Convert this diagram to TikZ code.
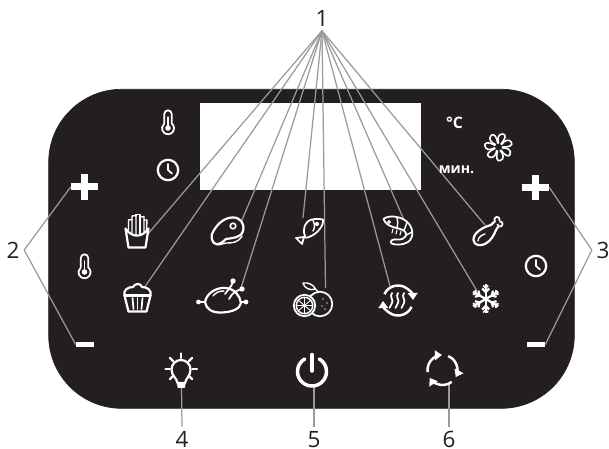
\documentclass[tikz,border=0pt]{standalone}
\usepackage{fontspec}
\setmainfont{Open Sans}
\usetikzlibrary{arrows.meta}
\definecolor{panelblack}{HTML}{231F20}
\definecolor{leadergray}{HTML}{9A9A9A}
\tikzset{
    icon/.style={draw=white, line width=1.25pt, line cap=round, line join=round},
    thin icon/.style={draw=white, line width=.8pt, line cap=round, line join=round},
    leader/.style={draw=leadergray, line width=.7pt},
    numlabel/.style={font=\fontsize{12.8}{14}\selectfont, text=panelblack, inner sep=2.5pt},
    bar/.style={fill=white, inner sep=0pt, minimum width=.36cm, minimum height=.1cm},
    crossbar/.style={fill=white, inner sep=0pt, minimum width=.54cm, minimum height=.14cm},
    panelword/.style={font=\fontsize{8}{10}\selectfont\bfseries, text=white, inner sep=0pt},
    cycle arrow/.style={icon, line width=1.4pt, line cap=butt, ->, >={Stealth[length=4pt,width=5.5pt,inset=0pt]}},
    pics/thermo/.style={code={
        \draw [icon, line width=1pt] (-3.7,-4.5) -- (-3.7,-14) arc (180:360:3.7) -- (3.7,-4.5) arc (-52:232:6) -- cycle;
        \fill [white] (0,0) circle (2.8);
        \draw [icon, line width=.7pt] (0,0) -- (0,-11);
    }},
    pics/clock/.style={code={
        \draw [icon] (0,0) circle (10.2);
        \draw [icon, line width=1pt] (0,-6) -- (0,0) -- (4,3.5);
    }},
    pics/flakearm/.style={code={
        \draw [icon, line cap=butt] (0,0) -- (0,-14.5);
        \draw [icon, line cap=butt] (-3.5,-10.5) -- (0,-7) -- (3.5,-10.5);
        \draw [icon, line cap=butt, line width=.9pt] (-2.5,-13.5) -- (0,-11) -- (2.5,-13.5);
    }},
    pics/fanblade/.style={code={
        \draw [thin icon, line width=.9pt] (0,-4) .. controls (-1.5,-9) and (0,-13.5) .. (4.5,-13) .. controls (8,-12.5) and (7,-8) .. (2.5,-3);
    }},
}

\begin{document}
\begin{tikzpicture}[x=.02cm, y=-.02cm]
        \useasboundingbox (0,0) rectangle (609,449);

        %panel and display
        \draw [fill=panelblack, draw=panelblack, rounded corners=1.46cm] (48.7,89.3) rectangle (574.3,408.3);
        \fill [white] (200,103) rectangle (421,190);

        \node [numlabel] (lab1) at (322,18) {1};
        \node [numlabel] (lab2) at (13,250) {2};
        \node [numlabel] (lab3) at (603,250) {3};
        \node [numlabel] (lab4) at (182,439.5) {4};
        \node [numlabel] (lab5) at (314,439.5) {5};
        \node [numlabel] (lab6) at (449,439.5) {6};

        \node [crossbar] (plusL) at (84.5,187) {};
        \node [crossbar] (plusR) at (535.5,187.5) {};
        \node [bar] (minusL) at (85,344.5) {};
        \node [bar] (minusR) at (536,344.5) {};
        \fill [white] (81,174) rectangle (88,200);
        \fill [white] (532,175) rectangle (539,200);

        \coordinate (fries) at (147,235);
        \coordinate (cupcake) at (144,288);
        \coordinate (steak) at (242,220);
        \coordinate (chicken) at (241,288);
        \coordinate (fish) at (303,218);
        \coordinate (orange) at (325.5,288);
        \coordinate (heat) at (390,286);
        \coordinate (shrimp) at (404,220);
        \coordinate (flake) at (477,291);
        \coordinate (drumstick) at (485,225);
        \coordinate (bulb) at (181.5,387);
        \coordinate (power) at (314,386);
        \coordinate (cycle) at (449,384);

        %leaders
        \draw [leader] (lab1.south) -- (fries);
        \draw [leader] (lab1.south) -- (cupcake);
        \draw [leader] (lab1.south) -- (steak);
        \draw [leader] (lab1.south) -- (chicken);
        \draw [leader] (lab1.south) -- (fish);
        \draw [leader] (lab1.south) -- (orange);
        \draw [leader] (lab1.south) -- (heat);
        \draw [leader] (lab1.south) -- (shrimp);
        \draw [leader] (lab1.south) -- (flake);
        \draw [leader] (lab1.south) -- (drumstick);
        \draw [leader] (lab2.east) -- (plusL.west);
        \draw [leader] (lab2.east) -- (minusL.west);
        \draw [leader] (lab3.west) -- (plusR.east);
        \draw [leader] (lab3.west) -- (minusR.east);
        \draw [leader] (lab4.north) -- (bulb);
        \draw [leader] (lab5.north) -- (power);
        \draw [leader] (lab6.north) -- (cycle);

        \pic at (168,128) {thermo};
        \pic at (84.5,272) {thermo};
        \pic at (168,170) {clock};
        \pic at (536,266) {clock};

        \node [panelword, font=\fontsize{9}{10}\selectfont\bfseries] (celsius) at (454.5,122.5) {°C};
        \node [panelword] (minutes) at (456.5,170) {мин.};

        %fan
        \pic [rotate=0] at (498.5,147) {fanblade};
        \pic [rotate=51] at (498.5,147) {fanblade};
        \pic [rotate=103] at (498.5,147) {fanblade};
        \pic [rotate=154] at (498.5,147) {fanblade};
        \pic [rotate=206] at (498.5,147) {fanblade};
        \pic [rotate=257] at (498.5,147) {fanblade};
        \pic [rotate=309] at (498.5,147) {fanblade};

        %fries
        \draw [icon] (125.5,228.5) -- (128.5,247.5) -- (145.5,247.5) -- (148.5,228.5) .. controls (142,238) and (132,238) .. cycle;
        \draw [thin icon] (128.5,230) -- (128.5,220) -- (132,219.5) -- (132,233);
        \draw [thin icon] (132,220) -- (132,216) -- (136,215.5) -- (136,235);
        \draw [thin icon] (136,216) -- (136,214.5) -- (140,214.5) -- (140,235);
        \draw [thin icon] (140,217) -- (144,216.5) -- (144,233);
        \draw [thin icon] (144,220) -- (147,220) -- (146.5,230);

        %cupcake
        \draw [icon] (124.5,295.5) -- (128.5,311.5) -- (146.5,311.5) -- (150.5,295.5) .. controls (152,290) and (147,287) .. (142,287) .. controls (141,283) and (135,283) .. (133,287) .. controls (128,287) and (123,290) .. (124.5,295.5) -- cycle;
        \draw [icon] (124.5,295.5) -- (150.5,295.5);
        \draw [thin icon, line width=1pt] (132.5,298) -- (133.5,309);
        \draw [thin icon, line width=1pt] (137.5,298) -- (137.5,309);
        \draw [thin icon, line width=1pt] (142.5,298) -- (141.5,309);

        %steak
        \draw [icon] (212,234) .. controls (215,227) and (222,218) .. (232,217.5) .. controls (240,217) and (245,223) .. (243,231) .. controls (241,238) and (232,238) .. (226,239) .. controls (222,243) and (217,246) .. (214,243) .. controls (212,241) and (211,237) .. (212,234) -- cycle;
        \draw [thin icon] (214,243) .. controls (219,247) and (223,243) .. (226,243) .. controls (232,243) and (238,243) .. (242,236);
        \draw [icon, line width=.9pt] (233,226) circle (2.8);

        %chicken
        \draw [icon] (205,302) .. controls (207,292) and (218,287) .. (226,288) .. controls (235,289) and (240,296) .. (241,303) .. controls (240,309) and (232,312) .. (222,312.5) .. controls (212,313) and (206,309) .. (205,302) -- cycle;
        \draw [icon] (198.5,302) -- (205,302);
        \draw [icon] (241,302) -- (246,302);
        \fill [white] (198.5,302) circle (2.4);
        \fill [white] (246,302) circle (2.4);
        \draw [thin icon, line width=1pt] (225,294) .. controls (228,290) and (231,287) .. (233,282);
        \draw [thin icon, line width=1pt] (229,299) .. controls (232,293) and (237,290) .. (242,289);
        \draw [thin icon, line width=.8pt] (213,296) .. controls (216,292) and (220,291) .. (224,291);
        \fill [white] (233,281) circle (2.7);
        \fill [white] (242,289) circle (2.7);

        %fish
        \draw [icon, line width=1pt] (305,236) .. controls (302,229) and (305,221) .. (312,219.5) .. controls (316,218.5) and (320,219) .. (323,219.5) .. controls (324,226) and (317,234) .. (309,237) .. controls (307,238) and (305,238) .. (304,237);
        \draw [icon, line width=1pt] (304,237) -- (296,238) -- (302,244) -- (304,237);
        \draw [thin icon] (313,220.5) .. controls (315,224) and (315,228) .. (313,231);
        \draw [thin icon] (317,224) circle (1.6);

        %oranges
        \draw [icon, line width=1pt] (320,304) circle (12.3);
        \draw [icon, fill=panelblack, line width=1pt] (304.5,305.5) circle (10.7);
        \draw [thin icon] (304.5,305.5) circle (8.2);
        \draw [thin icon, line width=.5pt] (298,300) -- (311,311) (304.5,297.5) -- (304.5,313.5) (311,300) -- (298,311) (296.5,305.5) -- (312.5,305.5);
        \draw [thin icon] (303,283) .. controls (308,282) and (314,285) .. (315.5,289) .. controls (310,291) and (304,288) .. (303,283) -- cycle;
        \draw [thin icon] (315.5,289) -- (318,291.5);
        \fill [white!70!panelblack] (323,299) circle (.8) (327,303) circle (.8) (322,306) circle (.8) (325,309) circle (.8);

        %heat cycle
        \draw [cycle arrow] ([shift={(205:15)}]398,300.5) arc (205:358:15);
        \draw [cycle arrow] ([shift={(25:15)}]398,300.5) arc (25:178:15);
        \draw [thin icon, line width=1pt] (392,293) .. controls (389,297) and (394,300) .. (392,303) .. controls (391,305) and (390,307) .. (389.5,308);
        \draw [thin icon, line width=1pt] (398,293) .. controls (395,297) and (400,300) .. (398,303) .. controls (397,305) and (396,307) .. (395.5,308);
        \draw [thin icon, line width=1pt] (404,293) .. controls (401,297) and (406,300) .. (404,303) .. controls (403,305) and (402,307) .. (401.5,308);

        %shrimp
        \draw [icon, line width=1pt] (383.5,219) .. controls (388,215) and (400,216) .. (406,221) .. controls (413,226) and (415,237) .. (408,242) .. controls (403,245) and (396,245.5) .. (391.5,243.5) .. controls (389,241) and (393,238.5) .. (398,239.5) .. controls (405,240) and (409,234) .. (404,230.5) .. controls (397,227) and (387,228) .. (383.5,219) -- cycle;
        \draw [thin icon, line width=.6pt] (389,222) circle (1.4);
        \draw [thin icon] (397,218) .. controls (398,222) and (398,225) .. (397,228);
        \draw [thin icon] (407,222.5) .. controls (406,225) and (405,228) .. (404,230.5);
        \draw [thin icon] (412,232) -- (406.5,235);
        \draw [thin icon, line width=.6pt] (393,229) -- (392,233) (397,230) -- (396,234) (401,231) -- (400,235);

        %drumstick
        \draw [icon] (491,225) .. controls (483,227) and (473,233) .. (473.5,240) .. controls (474,246) and (481,246) .. (485,244) .. controls (491,241) and (494,235) .. (496,230);
        \draw [icon] (491,225) -- (494,222) (496,230) -- (498,227);
        \draw [icon, fill=panelblack, line width=1pt] (497,219.5) circle (2.6);
        \draw [icon, fill=panelblack, line width=1pt] (500,224) circle (2.6);
        \fill [panelblack] (497.5,222) circle (2);
        \draw [thin icon] (478,241) .. controls (478,237) and (482,235) .. (485,234);

        %snowflake
        \pic [rotate=0] at (485.7,299) {flakearm};
        \pic [rotate=60] at (485.7,299) {flakearm};
        \pic [rotate=120] at (485.7,299) {flakearm};
        \pic [rotate=180] at (485.7,299) {flakearm};
        \pic [rotate=240] at (485.7,299) {flakearm};
        \pic [rotate=300] at (485.7,299) {flakearm};

        %bulb
        \draw [icon] (177.5,383) .. controls (177,378) and (171.5,376) .. (171.5,369.5) arc (180:360:9.5) .. controls (190.5,376) and (186,378) .. (185,383) -- cycle;
        \draw [thin icon] (177.5,385) -- (185,385);
        \draw [thin icon] (178,387) -- (184.5,387);
        \draw [icon] (181,353.5) -- (181,358);
        \draw [icon] (165.5,369) -- (170,369);
        \draw [icon] (192.5,369) -- (197,369);
        \draw [icon] (170,358) -- (173,361);
        \draw [icon] (192,358) -- (189,361);
        \draw [icon] (170,379) -- (173,376);
        \draw [icon] (192,379) -- (189,376);

        %power
        \draw [icon, line width=2pt] ([shift={(-60:14.5)}]312,371.5) arc (-60:240:14.5);
        \draw [icon, line width=2pt] (312,354.5) -- (312,371);

        %recycle
        \draw [cycle arrow] ([shift={(172:15)}]442.5,370) arc (172:268:15);
        \draw [cycle arrow] ([shift={(292:15)}]442.5,370) arc (292:388:15);
        \draw [cycle arrow] ([shift={(52:15)}]442.5,370) arc (52:148:15);
\end{tikzpicture}
\end{document}
